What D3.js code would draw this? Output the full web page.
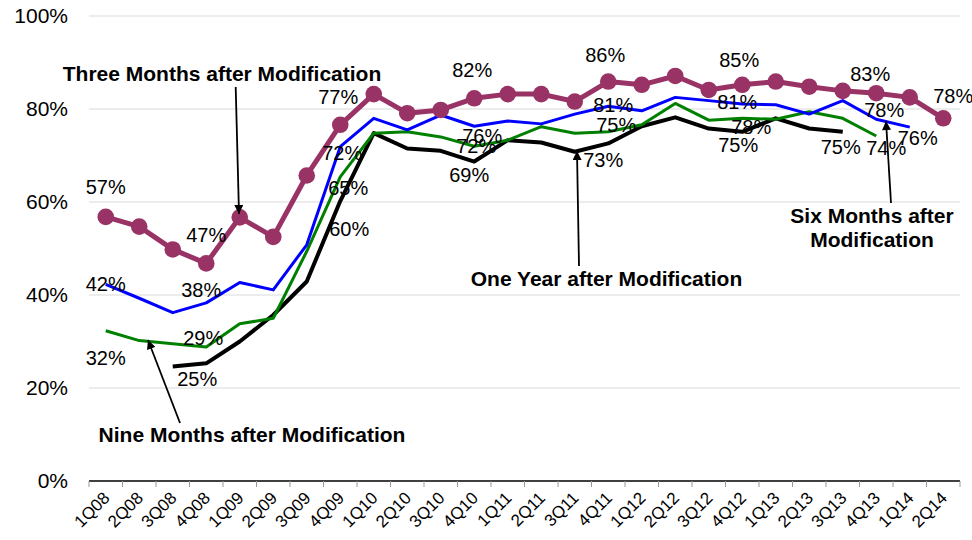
<!DOCTYPE html>
<html><head><meta charset="utf-8">
<script src="https://cdn.jsdelivr.net/npm/d3@7"></script>
<style>body{margin:0;background:#fff}svg{display:block}text{font-family:"Liberation Sans",Arial,sans-serif}</style>
</head><body><svg id="c" width="972" height="540"></svg>
<script>
const categories = ["1Q08","2Q08","3Q08","4Q08","1Q09","2Q09","3Q09","4Q09","1Q10","2Q10","3Q10","4Q10","1Q11","2Q11","3Q11","4Q11","1Q12","2Q12","3Q12","4Q12","1Q13","2Q13","3Q13","4Q13","1Q14","2Q14"];
const threeMonths = [56.8,54.7,49.8,46.8,56.7,52.5,65.7,76.6,83.2,79.1,79.8,82.3,83.2,83.2,81.6,85.9,85.2,87.1,84.1,85.2,85.9,84.8,83.9,83.4,82.5,78.0];
const sixMonths   = [42.3,39.3,36.2,38.3,42.7,41.1,50.8,71.9,78.0,75.5,78.7,76.3,77.4,76.8,78.9,80.6,79.6,82.5,81.8,81.1,80.9,78.9,81.8,77.8,76.1,null];
const nineMonths  = [32.3,30.2,29.5,28.8,33.8,35.0,49.4,65.4,74.8,75.1,74.0,72.0,73.3,76.2,74.8,75.1,76.6,81.2,77.6,78.0,77.8,79.4,78.0,74.2,null,null];
const oneYear     = [null,null,24.6,25.3,30.0,35.7,42.9,60.2,74.8,71.5,71.0,68.7,73.3,72.8,70.8,72.6,76.3,78.2,75.8,75.1,78.0,75.8,75.1,null,null,null];
const yTicks = [0,20,40,60,80,100];
// indices of labelled points
const threeLabels = [0,3,7,11,15,19,23,25];
const sixLabels   = [0,3,7,11,15,19,23,24];
const nineLabels  = [0,3,7,11,15,19,23];
const oneLabels   = [3,7,11,15,19,22];

// layout (offsets for labels, in px)
const threeOff = [[0,-30],[0,-28],[-2,-28],[-2,-28],[-3,-27],[-3,-25],[-6,-19],[10,-22]];
const sixOff   = [[0,0],[-5,-13],[2,6],[8,10],[5,-1],[-5,-2],[8,-9],[8,11]];
const nineOff  = [[0,27],[-3,-9],[8,11],[2,0],[8,-7],[9,9],[10,12]];
const oneOff   = [[-9,16],[9,28],[-5,13],[-5,17],[-4,13],[-2,15]];

const svg = d3.select("#c");
const L = 89, R = 960, T = 16, B = 481;
const x = d3.scaleBand().domain(categories).range([L,R]).padding(0);
const y = d3.scaleLinear().domain([0,100]).range([B,T]);
const cx = c => x(c) + x.bandwidth()/2;

// gridlines
svg.append("g").selectAll("line").data(yTicks.filter(d=>d>0)).join("line")
  .attr("x1",L).attr("x2",R).attr("y1",d=>y(d)).attr("y2",d=>y(d))
  .attr("stroke","#d9d9d9").attr("stroke-width",1);

// y labels
svg.append("g").selectAll("text").data(yTicks).join("text")
  .attr("x",68).attr("y",d=>y(d)).attr("dy","0.35em").attr("text-anchor","end")
  .attr("font-size",21).attr("fill","#000").text(d=>d+"%");

// x axis
const xAxis = svg.append("g");
xAxis.append("line").attr("x1",L).attr("x2",R).attr("y1",B).attr("y2",B).attr("stroke","#000").attr("stroke-width",1.5);
const bounds = categories.map(c=>x(c)).concat([R]);
xAxis.selectAll("line.t").data(bounds).join("line").attr("class","t")
  .attr("x1",d=>d).attr("x2",d=>d).attr("y1",B).attr("y2",B+6).attr("stroke","#999");
xAxis.selectAll("text").data(categories).join("text")
  .attr("transform",d=>`translate(${cx(d)+5},${B+18}) rotate(-45)`)
  .attr("text-anchor","end").attr("font-size",17).attr("fill","#000").text(d=>d);

const line = d3.line().defined(d=>d.v!=null).x(d=>cx(d.c)).y(d=>y(d.v));
const toPts = arr => arr.map((v,i)=>({c:categories[i],v}));

const series = [
  {vals:oneYear, color:"#000000", w:4, labels:oneLabels, off:oneOff},
  {vals:nineMonths, color:"#008000", w:3, labels:nineLabels, off:nineOff},
  {vals:sixMonths, color:"#0000ff", w:3, labels:sixLabels, off:sixOff},
  {vals:threeMonths, color:"#993366", w:5, labels:threeLabels, off:threeOff, markers:true}
];
series.forEach(s=>{
  svg.append("path").datum(toPts(s.vals)).attr("d",line)
    .attr("fill","none").attr("stroke",s.color).attr("stroke-width",s.w)
    .attr("stroke-linejoin","round");
  if(s.markers){
    svg.append("g").selectAll("circle").data(toPts(s.vals).filter(d=>d.v!=null)).join("circle")
      .attr("cx",d=>cx(d.c)).attr("cy",d=>y(d.v)).attr("r",8.3).attr("fill",s.color);
  }
});
const fmt = v => Math.round(v) + "%";
series.forEach(s=>{
  svg.append("g").selectAll("text").data(s.labels).join("text")
    .attr("x",(d,i)=>cx(categories[d])+s.off[i][0])
    .attr("y",(d,i)=>y(s.vals[d])+s.off[i][1])
    .attr("dy","0.35em").attr("text-anchor","middle").attr("font-size",20).attr("fill","#000")
    .text(d=>fmt(s.vals[d]));
});

// annotations
const defs = svg.append("defs");
defs.append("marker").attr("id","ah").attr("viewBox","0 0 10 10").attr("refX",10).attr("refY",5)
  .attr("markerWidth",10).attr("markerHeight",9).attr("markerUnits","userSpaceOnUse").attr("orient","auto")
  .append("path").attr("d","M0,0L10,5L0,10Z").attr("fill","#000");
const notes = [
  {lines:["Three Months after Modification"], tx:222, ty:74, a:[235.7,87,239,214]},
  {lines:["Nine Months after Modification"], tx:252, ty:435, a:[180,423,148,340]},
  {lines:["One Year after Modification"], tx:606.5, ty:279, a:[579,266,577,151]},
  {lines:["Six Months after","Modification"], tx:872, ty:216, a:[891,203,886,121]}
];
notes.forEach(n=>{
  svg.append("line").attr("x1",n.a[0]).attr("y1",n.a[1]).attr("x2",n.a[2]).attr("y2",n.a[3])
    .attr("stroke","#000").attr("stroke-width",1.8).attr("marker-end","url(#ah)");
  const t = svg.append("text").attr("text-anchor","middle").attr("font-size",21).attr("font-weight","bold").attr("fill","#000");
  n.lines.forEach((l,i)=>t.append("tspan").attr("x",n.tx).attr("y",n.ty+i*24).attr("dy","0.35em").text(l));
});
</script></body></html>
